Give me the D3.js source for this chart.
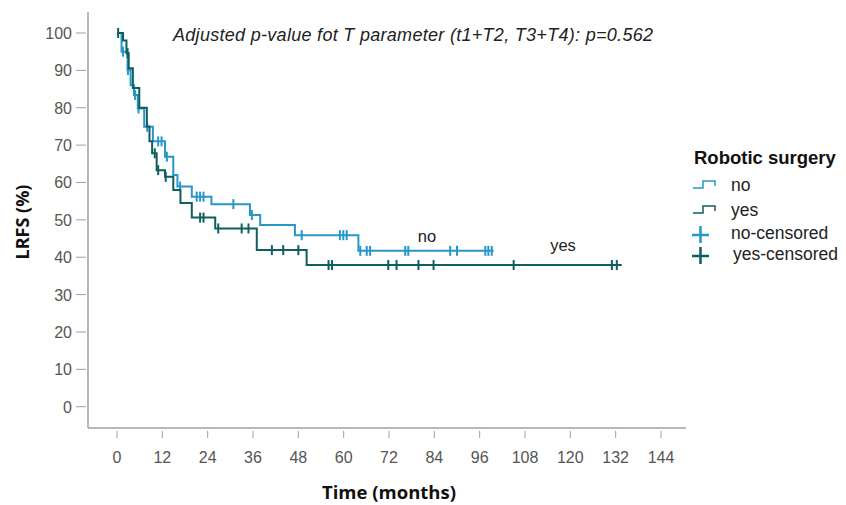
<!DOCTYPE html>
<meta charset="utf-8">
<style>
  body { margin: 0; background: #fff; }
</style>
<body>
<svg id="chart" width="846" height="505" font-family="Liberation Sans, Arial, sans-serif"></svg>
<script src="https://cdn.jsdelivr.net/npm/d3@7"></script>
<script>
// x tick labels (months) and y tick labels (%)
var xTicks = [0, 12, 24, 36, 48, 60, 72, 84, 96, 108, 120, 132, 144]
var yTicks = [0, 10, 20, 30, 40, 50, 60, 70, 80, 90, 100]

// step points [time, LRFS %] for each group, and last follow-up time
var noSteps = [[0, 100], [1.2, 95], [2.8, 90.1], [3.6, 86], [4.5, 83.4], [5.5, 79.8], [7.2, 74.9],
  [9.5, 71], [12.7, 66.9], [14.9, 62], [16, 58.9], [19.8, 56.2], [25, 54.2], [35.2, 51.3],
  [37.9, 48.6], [47.1, 45.9], [63.9, 41.7]]
var noEnd = 99.7
var noCensored = [1.6, 2.9, 4.8, 5.7, 8, 10.9, 11.8, 13.2, 16.7, 21.1, 22, 22.9, 30.8, 35.7,
  48.9, 59, 59.9, 60.8, 64.4, 66.1, 67, 76.3, 77.1, 88.2, 90, 97.5, 98.3, 99.2]

var yesSteps = [[0, 100], [1.6, 98], [2.5, 94.6], [3.1, 90.6], [4.2, 85.3], [5.9, 80], [7.9, 75],
  [8.6, 71], [9.3, 67.8], [10.5, 63.3], [12.7, 61.5], [14.9, 58], [16.8, 54.5], [19.8, 50.6],
  [26, 47.7], [37, 41.9], [50.2, 37.9]]
var yesEnd = 133.6
var yesCensored = [0.3, 2.8, 10, 10.9, 12.9, 22, 22.9, 26.8, 33, 34.8, 41, 44, 48, 56, 56.9,
  71.8, 74, 79.8, 83.8, 105, 131, 132.3]

var groups = [
  { name: 'no', steps: noSteps, end: noEnd, censored: noCensored, color: '#2797c9' },
  { name: 'yes', steps: yesSteps, end: yesEnd, censored: yesCensored, color: '#0f5f60' }
]

var svg = d3.select('#chart')

var x = d3.scaleLinear().domain([0, 144]).range([117, 661])
var y = d3.scaleLinear().domain([0, 100]).range([406.7, 33])

var axisColor = '#a0a0a0'
var labelColor = '#555'
var openSans = 'Open Sans, sans-serif'

// axis lines
svg.append('line').attr('x1', 88).attr('x2', 88).attr('y1', 12).attr('y2', 428)
  .attr('stroke', axisColor).attr('stroke-width', 1.5)
svg.append('line').attr('x1', 88).attr('x2', 686).attr('y1', 428).attr('y2', 428)
  .attr('stroke', axisColor).attr('stroke-width', 1.5)

// x ticks
var xAxis = svg.append('g')
xAxis.selectAll('line').data(xTicks).enter().append('line')
  .attr('x1', function (d) { return x(d) }).attr('x2', function (d) { return x(d) })
  .attr('y1', 431).attr('y2', 438)
  .attr('stroke', axisColor).attr('stroke-width', 1)
xAxis.selectAll('text').data(xTicks).enter().append('text')
  .attr('x', function (d) { return x(d) }).attr('y', 463)
  .attr('text-anchor', 'middle').attr('font-size', 16).attr('fill', labelColor)
  .text(function (d) { return d })

// y ticks
var yAxis = svg.append('g')
yAxis.selectAll('line').data(yTicks).enter().append('line')
  .attr('x1', 76).attr('x2', 86)
  .attr('y1', function (d) { return y(d) }).attr('y2', function (d) { return y(d) })
  .attr('stroke', axisColor).attr('stroke-width', 1)
yAxis.selectAll('text').data(yTicks).enter().append('text')
  .attr('x', 72).attr('y', function (d) { return y(d) + 6 })
  .attr('text-anchor', 'end').attr('font-size', 16).attr('fill', labelColor)
  .text(function (d) { return d })

// axis titles
svg.append('text').attr('x', 389).attr('y', 499).attr('text-anchor', 'middle')
  .attr('font-size', 18.5).attr('font-weight', 'bold').attr('fill', '#111')
  .attr('font-family', openSans)
  .text('Time (months)')
svg.append('text').attr('transform', 'translate(29,222) rotate(-90)').attr('text-anchor', 'middle')
  .attr('font-size', 18).attr('font-weight', 'bold').attr('fill', '#111')
  .attr('font-family', openSans)
  .text('LRFS (%)')

// survival value at a given time
function survivalAt(steps, t) {
  var s = steps[0][1]
  steps.forEach(function (p) { if (p[0] <= t) s = p[1] })
  return s
}

var line = d3.line().curve(d3.curveStepAfter)
  .x(function (d) { return x(d[0]) }).y(function (d) { return y(d[1]) })

groups.forEach(function (g) {
  var pts = g.steps.concat([[g.end, g.steps[g.steps.length - 1][1]]])
  svg.append('path').datum(pts).attr('d', line)
    .attr('fill', 'none').attr('stroke', g.color).attr('stroke-width', 2)

  svg.append('g').selectAll('line').data(g.censored).enter().append('line')
    .attr('x1', function (d) { return x(d) }).attr('x2', function (d) { return x(d) })
    .attr('y1', function (d) { return y(survivalAt(g.steps, d)) - 5 })
    .attr('y2', function (d) { return y(survivalAt(g.steps, d)) + 5 })
    .attr('stroke', g.color).attr('stroke-width', 2)
})

// curve labels
svg.append('text').attr('x', 427).attr('y', 242).attr('text-anchor', 'middle')
  .attr('font-size', 16.5).attr('fill', '#222').text('no')
svg.append('text').attr('x', 563).attr('y', 251).attr('text-anchor', 'middle')
  .attr('font-size', 16.5).attr('fill', '#222').text('yes')

// annotation
svg.append('text').attr('x', 173).attr('y', 41)
  .attr('font-size', 18).attr('font-style', 'italic').attr('fill', '#222')
  .attr('textLength', 480).attr('lengthAdjust', 'spacing')
  .text('Adjusted p-value fot T parameter (t1+T2, T3+T4):  p=0.562')

// legend
var legend = svg.append('g')
legend.append('text').attr('x', 694).attr('y', 164)
  .attr('font-size', 18.5).attr('font-weight', 'bold').attr('fill', '#111')
  .text('Robotic surgery')

var legendItems = [
  { label: 'no', color: groups[0].color, kind: 'step', y: 185, tx: 731 },
  { label: 'yes', color: groups[1].color, kind: 'step', y: 210, tx: 731 },
  { label: 'no-censored', color: groups[0].color, kind: 'cross', y: 233, tx: 731 },
  { label: 'yes-censored', color: groups[1].color, kind: 'cross', y: 254, tx: 733 }
]
legendItems.forEach(function (it) {
  if (it.kind === 'step') {
    legend.append('path')
      .attr('d', 'M693,' + (it.y + 3) + 'H703V' + (it.y - 4) + 'H715V' + (it.y + 1))
      .attr('fill', 'none').attr('stroke', it.color).attr('stroke-width', 1.5)
  } else {
    legend.append('path')
      .attr('d', 'M692,' + (it.y + 2) + 'H709M700.5,' + (it.y - 7) + 'V' + (it.y + 10))
      .attr('fill', 'none').attr('stroke', it.color).attr('stroke-width', 2.5)
  }
  legend.append('text').attr('x', it.tx)
    .attr('y', it.y + 6)
    .attr('font-size', 17.5).attr('fill', '#222')
    .text(it.label)
})
</script>
</body>
